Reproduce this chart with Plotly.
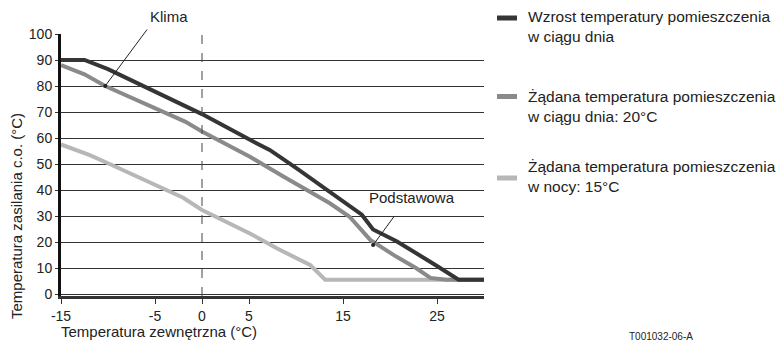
import plotly.graph_objects as go

# Outdoor temperature (°C) vs supply temperature (°C)
dark_x = [-15, -12.5, -10, -5, 0, 5, 7.2, 10, 13.6, 15.7, 17, 18.2, 20.7, 25, 27.3, 30]
dark_y = [90, 90, 86.5, 77.8, 69.2, 59.5, 55.4, 48.5, 39.3, 34.2, 30.5, 24.8, 20.3, 10.8, 5.5, 5.5]

mid_x = [-15, -12.5, -10.3, -5, -1.8, 0, 5.1, 8.7, 13.6, 15.7, 17.9, 20.7, 22.8, 24.3, 26, 30]
mid_y = [88, 84.5, 80, 71.5, 66.3, 62.5, 52.8, 45.1, 34.9, 29.7, 20.8, 14.3, 9.9, 6.2, 5.5, 5.5]

light_x = [-15, -12, -10, -5.5, -2, 0, 2.1, 5.1, 8, 11.5, 13.1, 30]
light_y = [57.5, 53.5, 50.3, 42.6, 37, 32.3, 28.5, 23.3, 17.5, 11.2, 5.5, 5.5]

x_ticks = [-15, -5, 0, 5, 15, 25]
y_ticks = [0, 10, 20, 30, 40, 50, 60, 70, 80, 90, 100]

series_names = [
    "Wzrost temperatury pomieszczenia<br>w ciągu dnia",
    "Żądana temperatura pomieszczenia<br>w ciągu dnia: 20°C",
    "Żądana temperatura pomieszczenia<br>w nocy: 15°C",
]
colors = ["#353535", "#8a8a8a", "#b7b7b7"]

FONT = "Liberation Sans, Arial, sans-serif"
TXT = "#222222"

OFF = 8  # page body margin
W, H = 784 - OFF, 341 - OFF
# target plot area in window pixels: x 61..484, y 34..296
L, R, T, B = 61 - OFF, 784 - 484, 34 - OFF, 341 - 296
PW, PH = 484 - 61, 296 - 34


def px(x):
    return (x - 61) / PW


def py(y):
    return (296 - y) / PH


fig = go.Figure()
for xs, ys, c in [(light_x, light_y, colors[2]), (mid_x, mid_y, colors[1]), (dark_x, dark_y, colors[0])]:
    fig.add_trace(go.Scatter(x=xs, y=ys, mode="lines", line=dict(color=c, width=4),
                             showlegend=False, hoverinfo="skip"))

fig.add_vline(x=0, line=dict(color="#444444", width=1, dash="dash"))


def label(x, y, text, size=15, **kw):
    fig.add_annotation(xref="paper", yref="paper", x=px(x), y=py(y), text=text,
                       showarrow=False, xanchor=kw.pop("xanchor", "center"), yanchor="middle",
                       font=dict(family=FONT, size=size, color=TXT), **kw)


# annotations (labels with leader lines)
fig.add_annotation(x=-10.3, y=80, ax=43, ay=-58, text="", showarrow=True,
                   arrowhead=6, arrowsize=1, arrowwidth=1, arrowcolor="#222222", standoff=0)
label(169, 17, "Klima")
fig.add_annotation(x=18.2, y=18.8, ax=22, ay=-30, text="", showarrow=True,
                   arrowhead=6, arrowsize=1, arrowwidth=1, arrowcolor="#222222", standoff=0)
label(412, 198, "Podstawowa")

# axis titles
label(17, 216, "Temperatura zasilania c.o. (°C)", textangle=-90)
label(59, 331, "Temperatura zewnętrzna (°C)", xanchor="left")
label(661, 336, "T001032-06-A", size=10)

# manual legend
sw_y = [18, 96.5, 178]
txt_y = [27, 106.5, 176]
for name, c, sy, ty in zip(series_names, colors, sw_y, txt_y):
    fig.add_shape(type="rect", xref="paper", yref="paper",
                  x0=px(497), x1=px(517), y0=py(sy + 2.5), y1=py(sy - 2.5),
                  fillcolor=c, line=dict(width=0))
    label(525, ty, name, size=15.5, xanchor="left", align="left")

fig.update_xaxes(range=[-15, 30], tickvals=x_ticks, ticktext=[str(v) for v in x_ticks],
                 showgrid=False, zeroline=False, showline=True, linecolor="#333333", linewidth=2.5,
                 ticks="outside", ticklen=5, tickcolor="#333333", tickwidth=1,
                 tickfont=dict(family=FONT, size=14, color=TXT))
fig.update_yaxes(range=[-0.77, 100], tickvals=y_ticks,
                 showgrid=True, gridcolor="#333333", gridwidth=1, zeroline=False,
                 showline=True, linecolor="#111111", linewidth=3,
                 ticks="outside", ticklen=3, tickcolor="#333333", tickwidth=1,
                 tickfont=dict(family=FONT, size=14, color=TXT))

fig.update_layout(width=W, height=H, margin=dict(l=L, r=R, t=T, b=B, autoexpand=False),
                  paper_bgcolor="white", plot_bgcolor="white", showlegend=False)

fig.write_html("out.html")
